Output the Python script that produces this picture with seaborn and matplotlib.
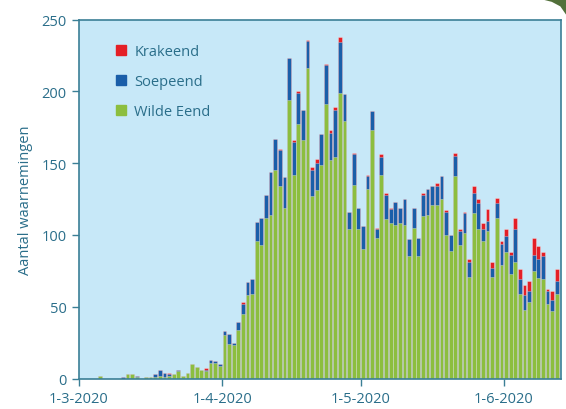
import numpy as np
import pandas as pd
import matplotlib
matplotlib.use("Agg")
import matplotlib.pyplot as plt
import seaborn as sns
from matplotlib.lines import Line2D
from matplotlib.patches import Polygon

# ---- data: daily counts, 1 March 2020 .. 12 June 2020 ----
green_mar = [0, 0, 0, 0, 2, 0, 0, 0, 0, 0,
             3, 3, 1, 0, 1, 1, 1, 2, 1, 2,
             3, 5, 2, 4, 10, 8, 6, 5, 11, 11, 9]
blue_mar = [0, 0, 0, 0, 0, 0, 0, 0, 0, 1,
            0, 0, 1, 0, 0, 0, 2, 4, 3, 1,
            0, 1, 0, 0, 0, 0, 0, 1, 2, 1, 1]
red_mar = [0, 0, 0, 0, 0, 0, 0, 0, 0, 0,
           0, 0, 0, 0, 0, 0, 0, 0, 0, 1,
           0, 0, 0, 0, 0, 0, 0, 1, 0, 0, 0]

green_apr = [30, 24, 23, 34, 45, 58, 59, 96, 93, 112, 114, 145, 134, 119, 194,
             142, 177, 166, 216, 127, 131, 149, 191, 152, 154, 199, 179, 104, 135, 104]
blue_apr = [3, 7, 2, 5, 7, 9, 10, 13, 19, 16, 30, 22, 25, 21, 29,
            23, 22, 21, 19, 18, 19, 21, 27, 19, 33, 35, 19, 12, 21, 15]
red_apr = [0, 0, 0, 0, 1, 0, 0, 0, 0, 0, 0, 0, 1, 0, 0,
           1, 1, 0, 1, 2, 3, 0, 1, 2, 2, 4, 0, 0, 1, 0]

green_may = [90, 132, 173, 98, 142, 111, 108, 107, 108, 107, 85, 105, 85, 113, 114, 121,
             121, 125, 100, 89, 141, 93, 101, 71, 115, 104, 96, 103, 71, 112, 79]
blue_may = [16, 9, 13, 6, 12, 17, 10, 16, 11, 18, 12, 14, 13, 15, 18, 13,
            13, 16, 16, 11, 14, 10, 14, 10, 14, 18, 8, 7, 6, 10, 15]
red_may = [0, 1, 0, 1, 2, 1, 1, 0, 0, 0, 0, 0, 0, 1, 0, 0,
           2, 0, 1, 0, 2, 1, 1, 2, 5, 3, 4, 8, 4, 4, 2]

green_jun = [88, 73, 81, 59, 48, 53, 75, 70, 69, 52, 47, 59]
blue_jun = [11, 13, 23, 10, 10, 8, 11, 13, 16, 9, 8, 9]
red_jun = [5, 2, 8, 7, 7, 7, 12, 9, 3, 1, 6, 8]

series_labels = ["Krakeend", "Soepeend", "Wilde Eend"]
tick_days = [0, 31, 61, 92]
tick_labels = ["1-3-2020", "1-4-2020", "1-5-2020", "1-6-2020"]
y_ticks = [0, 50, 100, 150, 200, 250]

# ---- styling ----
C_RED = "#e41f26"
C_BLUE = "#1a5ea9"
C_GREEN = "#8cbe3f"
C_BG = "#c7e8f8"
C_TEXT = "#2a6e8a"
C_SPINE = "#3b7f96"

green = np.array(green_mar + green_apr + green_may + green_jun)
blue = np.array(blue_mar + blue_apr + blue_may + blue_jun)
red = np.array(red_mar + red_apr + red_may + red_jun)
n = len(green)
df = pd.DataFrame({
    "day": np.arange(n) + 0.5,
    "green": green,
    "gb": green + blue,
    "total": green + blue + red,
})

sns.set_theme(style="ticks")
plt.rcParams["font.family"] = ["Open Sans", "DejaVu Sans"]

fig = plt.figure(figsize=(5.66, 4.10), dpi=100)
ax = fig.add_axes([79 / 566, 1 - 379.5 / 410, (560.5 - 79) / 566, (379.5 - 20.5) / 410])
ax.set_facecolor(C_BG)

common = dict(data=df, x="day", native_scale=True, width=0.82, saturation=1,
              errorbar=None, edgecolor=(1, 1, 1, 0.35), linewidth=0.6, ax=ax)
sns.barplot(y="total", color=C_RED, **common)
sns.barplot(y="gb", color=C_BLUE, **common)
sns.barplot(y="green", color=C_GREEN, **common)

ax.set_xlim(0, 104.3)
ax.set_ylim(0, 250)
ax.set_xticks(tick_days)
ax.set_xticklabels(tick_labels)
ax.set_yticks(y_ticks)
ax.set_xlabel("")
ax.set_ylabel("Aantal waarnemingen", color=C_TEXT, fontsize=10.5, labelpad=6)

for s in ax.spines.values():
    s.set_visible(True)
    s.set_color(C_SPINE)
    s.set_linewidth(1.2)

ax.tick_params(axis="both", direction="out", length=5, width=1, color=C_SPINE,
               labelcolor=C_TEXT, labelsize=10.5, pad=4, bottom=True, left=True)

handles = [Line2D([], [], marker="s", linestyle="", markersize=7.5,
                  markerfacecolor=c, markeredgecolor=c)
           for c in (C_RED, C_BLUE, C_GREEN)]
ax.legend(handles, series_labels, loc="upper left", bbox_to_anchor=(0.045, 0.969),
          frameon=False, labelspacing=1.04, handletextpad=0.4, handlelength=1.0,
          fontsize=10.5, labelcolor=C_TEXT)

# decorative corner swoosh
deco = Polygon([(0.955, 1.0), (1.0, 1.0), (1.0, 0.962), (0.99, 0.982), (0.975, 0.993)],
               closed=True, transform=fig.transFigure, facecolor="#52703a",
               edgecolor="none", zorder=5)
fig.patches.append(deco)

fig.savefig("out.png", dpi=100, facecolor="white")
